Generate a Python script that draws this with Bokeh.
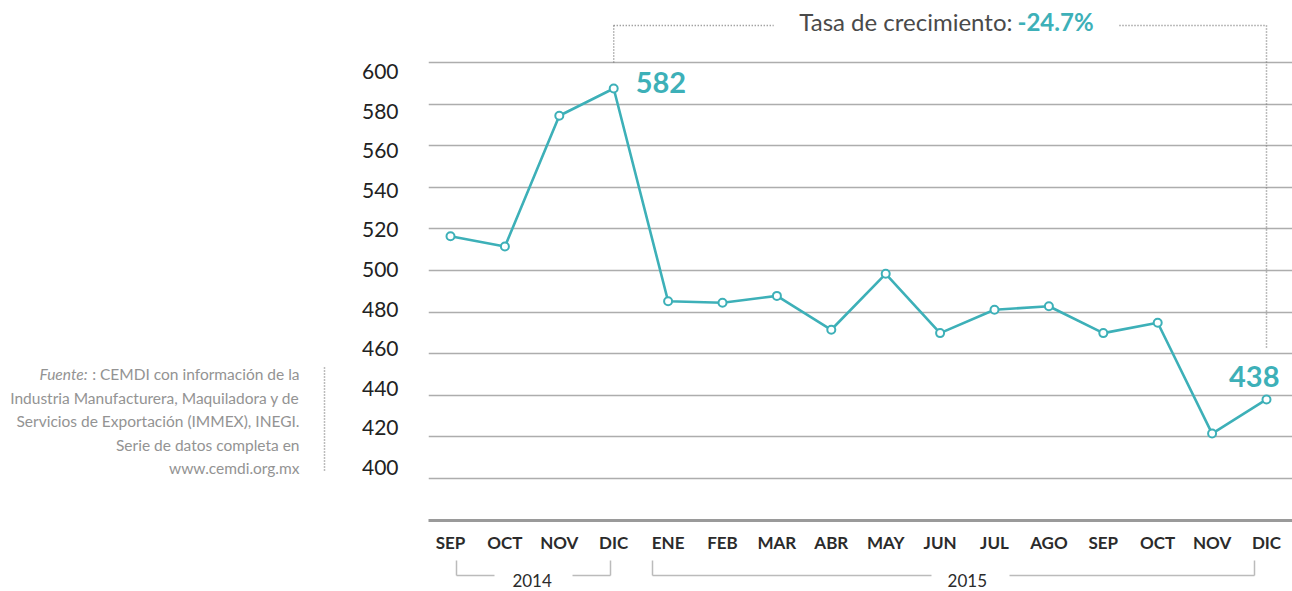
from bokeh.plotting import figure
from bokeh.layouts import column, row
from bokeh.models import Range1d, LinearAxis, FixedTicker, Grid, Label, ColumnDataSource
from bokeh.core.properties import value
from bokeh.embed import file_html
from bokeh.resources import INLINE

# ---------------- data ----------------
months = ["SEP", "OCT", "NOV", "DIC", "ENE", "FEB", "MAR", "ABR",
          "MAY", "JUN", "JUL", "AGO", "SEP", "OCT", "NOV", "DIC"]
values = [516.5, 511.5, 574.4, 587.5, 485.2, 484.5, 487.8, 471.5,
          498.4, 469.9, 481.1, 482.8, 469.9, 474.9, 421.6, 438.0]
years = ["2014", "2015"]
year_groups = [[0, 1, 2, 3], [4, 5, 6, 7, 8, 9, 10, 11, 12, 13, 14, 15]]
y_ticks = [400, 420, 440, 460, 480, 500, 520, 540, 560, 580, 600]
start_label = "582"
end_label = "438"
growth_text = "Tasa de crecimiento:"
growth_value = "-24.7%"
source_first = ": CEMDI con información de la"
source_lines = [
    "Industria Manufacturera, Maquiladora y de",
    "Servicios de Exportación (IMMEX), INEGI.",
    "Serie de datos completa en",
    "www.cemdi.org.mx",
]

TEAL = "#3db0b8"
FONT = "Lato"
LEFT_W = 330
MAIN_H = 555
TOTAL_W, TOTAL_H = 1292, 591
FRAME_TOP, FRAME_BOTTOM = 10, 520
DOT = "#7a7a7a"


def dx(px):
    return (px - 450) / 54.4


def dy(py):
    return 600 - (py - 62) / 2.08


def hide_grids(fig):
    fig.xgrid.visible = False
    fig.ygrid.visible = False


# ---------------- main chart ----------------
p = figure(width=TOTAL_W - LEFT_W, height=MAIN_H, output_backend="svg", toolbar_location=None,
           x_range=Range1d(dx(428), dx(TOTAL_W)), y_range=Range1d(dy(FRAME_BOTTOM), dy(FRAME_TOP)),
           x_axis_location=None, y_axis_location=None,
           min_border_left=428 - LEFT_W, min_border_right=0, min_border_top=FRAME_TOP,
           min_border_bottom=MAIN_H - FRAME_BOTTOM)
p.outline_line_color = None
p.background_fill_color = "white"
p.border_fill_color = "white"
hide_grids(p)

xax = LinearAxis(ticker=FixedTicker(ticks=list(range(len(months)))),
                 major_label_overrides={i: m for i, m in enumerate(months)})
xax.axis_line_color = "#9a9a9a"
xax.axis_line_width = 3
xax.major_tick_line_color = None
xax.minor_tick_line_color = None
xax.major_tick_out = 0
xax.major_label_text_font = FONT
xax.major_label_text_font_style = "bold"
xax.major_label_text_font_size = "17px"
xax.major_label_text_color = "#2b2b2b"
xax.major_label_standoff = 11
p.add_layout(xax, "below")

p.extra_y_ranges = {"lab": Range1d(373.23, 630.81)}
yax = LinearAxis(y_range_name="lab", ticker=FixedTicker(ticks=y_ticks))
yax.axis_line_color = None
yax.major_tick_line_color = None
yax.minor_tick_line_color = None
yax.major_tick_out = 0
yax.major_label_text_font = FONT
yax.major_label_text_font_size = "21px"
yax.major_label_text_color = "#222222"
yax.major_label_standoff = 30
p.add_layout(yax, "left")

p.add_layout(Grid(dimension=1, ticker=FixedTicker(ticks=y_ticks),
                  grid_line_color="#adadad", grid_line_width=1.3))

src = ColumnDataSource(dict(x=list(range(len(values))), y=values))
p.line("x", "y", source=src, line_color=TEAL, line_width=2.6)
p.scatter("x", "y", source=src, size=8, fill_color="white", line_color=TEAL, line_width=2)

i0, i1 = 3, len(values) - 1
yb = dy(25)
p.segment(x0=[i0, i0, dx(1119), i1], y0=[yb, yb, yb, yb],
          x1=[i0, dx(773), i1, i1], y1=[max(y_ticks), yb, yb, dy(348)],
          line_dash="1 2", line_color=DOT, line_width=1.5)

p.add_layout(Label(x=dx(1012), y=dy(21), text=growth_text, text_align="right",
                   text_baseline="middle", text_font=FONT, text_font_size="24px",
                   text_color="#4a4a4a"))
p.add_layout(Label(x=dx(1017), y=dy(21), text=growth_value, text_align="left",
                   text_baseline="middle", text_font=FONT, text_font_size="24px",
                   text_font_style="bold", text_color=TEAL))

p.add_layout(Label(x=i0, y=values[i0], x_offset=22, y_offset=6, text=start_label,
                   text_align="left", text_baseline="alphabetic", text_font=FONT,
                   text_font_size="29px", text_font_style="bold", text_color=TEAL))
p.add_layout(Label(x=i1, y=values[i1], x_offset=13, y_offset=23, text=end_label,
                   text_align="right", text_baseline="alphabetic", text_font=FONT,
                   text_font_size="29px", text_font_style="bold", text_color=TEAL))

# ---------------- left note (frame aligned with main frame) ----------------
left = figure(width=LEFT_W, height=MAIN_H, output_backend="svg", toolbar_location=None,
              x_range=Range1d(0, LEFT_W), y_range=Range1d(FRAME_BOTTOM, FRAME_TOP),
              x_axis_location=None, y_axis_location=None, min_border=0)
left.outline_line_color = None
hide_grids(left)
SRC = "#939393"
FS = "15.5px"
left.text(x=[87], y=[373], text=["Fuente:"], text_align="right", text_baseline="middle",
          text_font=value(FONT), text_font_size=FS, text_font_style="italic",
          text_color=SRC)
left.text(x=[299], y=[373], text=[source_first], text_align="right", text_baseline="middle",
          text_font=value(FONT), text_font_size=FS, text_color=SRC)
left.text(x=[299] * len(source_lines), y=[397 + k * 23.5 for k in range(len(source_lines))],
          text=source_lines, text_align="right", text_baseline="middle",
          text_font=value(FONT), text_font_size=FS, text_color=SRC)
left.segment(x0=[324], y0=[367], x1=[324], y1=[472], line_dash="1 2",
             line_color=DOT, line_width=1.5)

# ---------------- year brackets ----------------
bot = figure(width=TOTAL_W, height=TOTAL_H - MAIN_H, output_backend="svg", toolbar_location=None,
             x_range=Range1d(dx(0), dx(TOTAL_W)), y_range=Range1d(TOTAL_H, MAIN_H),
             x_axis_location=None, y_axis_location=None, min_border=0)
bot.outline_line_color = None
hide_grids(bot)
BR = "#bbbbbb"
brackets = [(456, 494, 572, 610), (652, 931, 1009, 1254)]
ytop, ybot = 560, 575
x0s, y0s, x1s, y1s = [], [], [], []
for a, b, c, d in brackets:
    for xs, ys, xe, ye in [(a, ytop, a, ybot), (a, ybot, b, ybot),
                           (c, ybot, d, ybot), (d, ybot, d, ytop)]:
        x0s.append(dx(xs)); y0s.append(ys); x1s.append(dx(xe)); y1s.append(ye)
bot.segment(x0=x0s, y0=y0s, x1=x1s, y1=y1s, line_color=BR, line_width=1.5)
bot.text(x=[sum(g) / len(g) for g in year_groups], y=[580, 580], text=years,
         text_align="center", text_baseline="middle", text_font=value(FONT),
         text_font_size="17px", text_color="#2b2b2b")

layout = column(row(left, p), bot)
open("out.html", "w").write(file_html(layout, INLINE))
